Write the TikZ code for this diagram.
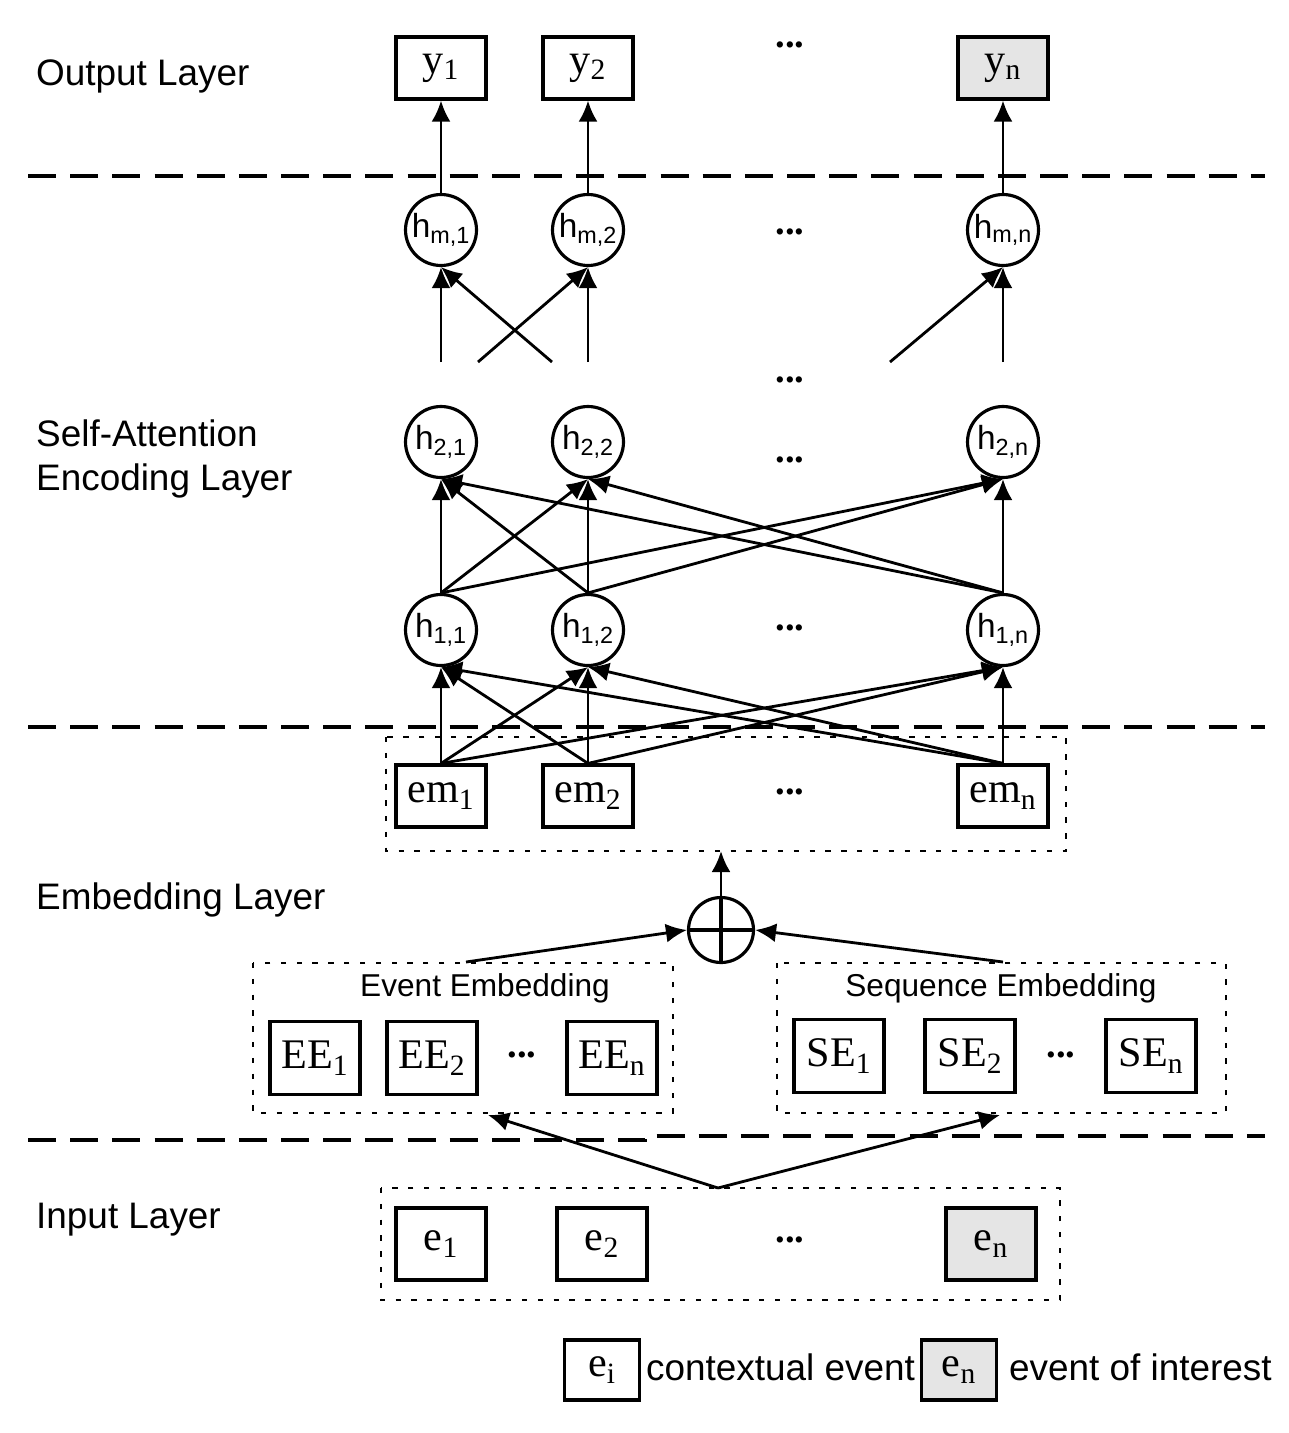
\documentclass[tikz,border=0pt]{standalone}
\usepackage{fontspec}
\setmainfont{Liberation Serif}
\setsansfont{Liberation Sans}
\usetikzlibrary{arrows.meta}
\tikzset{
	box/.style={draw, line width=1.8pt, minimum width=1.8cm, minimum height=1.24cm, inner sep=0pt, font=\fontsize{24}{28}\selectfont},
	interest/.style={box, fill=gray!20},
	unit/.style={draw, circle, line width=1.8pt, minimum size=1.42cm, inner sep=0pt, font=\sffamily\fontsize{19}{22}\selectfont},
	dotbox/.style={draw, line width=1.6pt, dash pattern=on 3pt off 6pt},
	layer/.style={draw, line width=1.8pt, dash pattern=on 16pt off 8pt},
	arr/.style={line width=1.6pt, -{Latex[length=4.2mm,width=3.8mm]}},
	lbl/.style={anchor=west, font=\sffamily\fontsize{21}{25}\selectfont, align=left},
	dots/.style={font=\bfseries\fontsize{22}{24}\selectfont}
}
\begin{document}
\begin{tikzpicture}[x=0.02cm, y=-0.02cm]
	\useasboundingbox (0,0) rectangle (1288,1433);
	%layer borders
	\draw[layer] (28,176) -- (1265,176);
	\draw[layer] (28,727) -- (1265,727);
	\draw[layer] (28,1140) -- (645,1140) -- (645,1136) -- (1265,1136);
	%layer names
	\node[lbl] (lout) at (30,76) {Output Layer};
	\node[lbl] (lsa) at (30,459) {Self-Attention\\Encoding Layer};
	\node[lbl] (lemb) at (30,900) {Embedding Layer};
	\node[lbl] (lin) at (30,1220) {Input Layer};
	%output
	\node[box] (y1) at (441,68) {y\textsubscript{1}};
	\node[box] (y2) at (588,68) {y\textsubscript{2}};
	\node[dots] at (790,45) {...};
	\node[interest] (yn) at (1003,68) {y\textsubscript{n}};
	%encoder units
	\foreach \l/\y in {m/230, 2/442, 1/630} {
		\node[unit] (h\l1) at (441,\y) {h\textsubscript{\l,1}};
		\node[unit] (h\l2) at (588,\y) {h\textsubscript{\l,2}};
		\node[unit] (h\l n) at (1003,\y) {h\textsubscript{\l,n}};
	}
	\node[dots] at (790,232) {...};
	\node[dots] at (790,380) {...};
	\node[dots] at (790,460) {...};
	\node[dots] at (790,628) {...};
	%embeddings
	\node[box] (em1) at (441,796) {em\textsubscript{1}};
	\node[box] (em2) at (588,796) {em\textsubscript{2}};
	\node[dots] at (790,792) {...};
	\node[box] (emn) at (1003,796) {em\textsubscript{n}};
	\draw[dotbox] (386,737) rectangle (1066,851);
	\coordinate (emtop) at (721,851);
	\node[draw, circle, line width=1.8pt, minimum size=1.3cm] (sum) at (721,930) {};
	\draw[line width=1.8pt] (sum.north) -- (sum.south) (sum.west) -- (sum.east);
	%event embedding
	\draw[dotbox] (253,963) rectangle (673,1113);
	\node[font=\sffamily\fontsize{18}{22}\selectfont] (ee) at (485,988) {Event Embedding};
	\node[box, minimum height=1.46cm] (ee1) at (315,1058) {EE\textsubscript{1}};
	\node[box, minimum height=1.46cm] (ee2) at (432,1058) {EE\textsubscript{2}};
	\node[dots] at (522,1055) {...};
	\node[box, minimum height=1.46cm] (een) at (612,1058) {EE\textsubscript{n}};
	%sequence embedding
	\draw[dotbox] (777,963) rectangle (1226,1113);
	\node[font=\sffamily\fontsize{18}{22}\selectfont] (se) at (1001,988) {Sequence Embedding};
	\node[box, minimum height=1.46cm] (se1) at (839,1056) {SE\textsubscript{1}};
	\node[box, minimum height=1.46cm] (se2) at (970,1056) {SE\textsubscript{2}};
	\node[dots] at (1061,1055) {...};
	\node[box, minimum height=1.46cm] (sen) at (1151,1056) {SE\textsubscript{n}};
	\coordinate (eetop) at (466,962);
	\coordinate (eebot) at (488,1115);
	\coordinate (setop) at (1003,962);
	\coordinate (sebot) at (1000,1115);
	%input
	\draw[dotbox] (381,1188) rectangle (1060,1300);
	\coordinate (intop) at (718,1188);
	\node[box, minimum height=1.44cm] (e1) at (441,1244) {e\textsubscript{1}};
	\node[box, minimum height=1.44cm] (e2) at (602,1244) {e\textsubscript{2}};
	\node[dots] at (790,1240) {...};
	\node[interest, minimum height=1.44cm] (en) at (991,1244) {e\textsubscript{n}};
	%legend
	\node[box, minimum width=1.5cm, minimum height=1.2cm] (lgi) at (602,1370) {e\textsubscript{i}};
	\node[lbl, anchor=west] (lgit) at (640,1367) {contextual event};
	\node[interest, minimum width=1.5cm, minimum height=1.2cm] (lgn) at (959,1370) {e\textsubscript{n}};
	\node[lbl, anchor=west] (lgnt) at (1003,1367) {event of interest};
	%connections
	\draw[arr] (intop) -- (eebot);
	\draw[arr] (intop) -- (sebot);
	\draw[arr] (eetop) -- (sum.west);
	\draw[arr] (setop) -- (sum.east);
	\draw[arr] (sum.north) -- (emtop);
	\foreach \a in {1,2,n}
		\foreach \b in {1,2,n} {
			\draw[arr] (em\a.north) -- (h1\b.south);
			\draw[arr] (h1\a.north) -- (h2\b.south);
		}
	\coordinate (p1) at (441,362);
	\coordinate (p2) at (478,362);
	\coordinate (p3) at (552,362);
	\coordinate (p4) at (588,362);
	\coordinate (p5) at (890,362);
	\coordinate (p6) at (1003,362);
	\draw[arr] (p1) -- (hm1.south);
	\draw[arr] (p3) -- (hm1.south);
	\draw[arr] (p2) -- (hm2.south);
	\draw[arr] (p4) -- (hm2.south);
	\draw[arr] (p5) -- (hmn.south);
	\draw[arr] (p6) -- (hmn.south);
	\draw[arr] (hm1) -- (y1);
	\draw[arr] (hm2) -- (y2);
	\draw[arr] (hmn) -- (yn);
\end{tikzpicture}
\end{document}
